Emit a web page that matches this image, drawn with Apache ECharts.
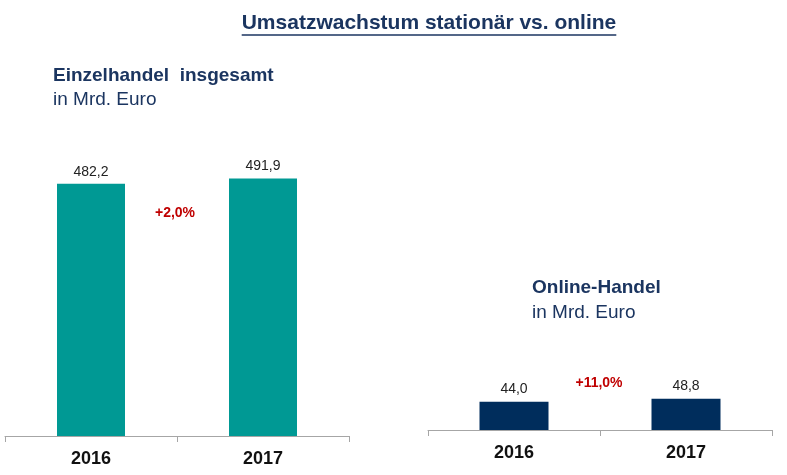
<!DOCTYPE html>
<html>
  <head>
    <meta charset="UTF-8">
    <title>Umsatzwachstum</title>
    <script src="https://cdn.jsdelivr.net/npm/echarts@6/dist/echarts.min.js"></script>
    <style>
      html, body { margin: 0; padding: 0; background: #fff; }
    </style>
  </head>
  <body>
    <div id="myChart" style="width: 787px;height:475px;"></div>
    <script type="text/javascript">
      // Daten
      var jahre = ['2016', '2017'];
      var einzelhandel = [482.2, 491.9];   // Mrd. Euro
      var online = [44.0, 48.8];          // Mrd. Euro
      var wachstum = ['+2,0%', '+11,0%'];

      var font = 'Liberation Sans, Arial, sans-serif';
      var navy = '#1b3560';
      var titel = 'Umsatzwachstum stationär vs. online';

      function komma(v) {
        return v.toFixed(1).replace('.', ',');
      }

      // Breite des Titels für die Unterstreichung
      var ctx = document.createElement('canvas').getContext('2d');
      ctx.font = 'bold 21px ' + font;
      var titelBreite = ctx.measureText(titel).width;
      var titelX = 429;

      var myChart = echarts.init(document.getElementById('myChart'));

      function xAchse(idx) {
        return {
          type: 'category',
          gridIndex: idx,
          data: jahre,
          axisLine: { lineStyle: { color: '#a6a6a6', width: 1 } },
          axisTick: { show: true, length: 6, lineStyle: { color: '#a6a6a6' } },
          axisLabel: {
            color: '#111', fontSize: 18, fontWeight: 'bold', fontFamily: font, margin: 14
          }
        };
      }

      function yAchse(idx, max) {
        return {
          type: 'value',
          gridIndex: idx,
          min: 0,
          max: max,
          show: false,
          splitLine: { show: false }
        };
      }

      var option = {
        animation: false,
        backgroundColor: '#fff',
        grid: [
          { left: 5, width: 344, top: 122, bottom: 39 },
          { left: 428, width: 344, top: 366, bottom: 45 }
        ],
        xAxis: [xAchse(0), xAchse(1)],
        yAxis: [yAchse(0, 600), yAchse(1, 100)],
        series: [
          {
            type: 'bar',
            xAxisIndex: 0,
            yAxisIndex: 0,
            data: einzelhandel,
            barWidth: 68,
            itemStyle: { color: '#009994' },
            label: {
              show: true, position: 'top', distance: 5,
              color: '#222', fontSize: 14, fontFamily: font,
              formatter: function (p) { return komma(p.value); }
            }
          },
          {
            type: 'bar',
            xAxisIndex: 1,
            yAxisIndex: 1,
            data: online,
            barWidth: 69,
            itemStyle: { color: '#002d5c' },
            label: {
              show: true, position: 'top', distance: 6,
              color: '#222', fontSize: 14, fontFamily: font,
              formatter: function (p) { return komma(p.value); }
            }
          }
        ],
        graphic: [
          {
            type: 'text', left: titelX - titelBreite / 2, top: 13,
            style: { text: titel, fill: navy, font: 'bold 21px ' + font }
          },
          {
            type: 'line',
            shape: { x1: titelX - titelBreite / 2, y1: 35, x2: titelX + titelBreite / 2, y2: 35 },
            style: { stroke: navy, lineWidth: 1.5 }
          },
          {
            type: 'text', left: 53, top: 66,
            style: { text: 'Einzelhandel  insgesamt', fill: navy, font: 'bold 19px ' + font }
          },
          {
            type: 'text', left: 53, top: 90,
            style: { text: 'in Mrd. Euro', fill: navy, font: '19px ' + font }
          },
          {
            type: 'text', left: 532, top: 278,
            style: { text: 'Online-Handel', fill: navy, font: 'bold 19px ' + font }
          },
          {
            type: 'text', left: 532, top: 303,
            style: { text: 'in Mrd. Euro', fill: navy, font: '19px ' + font }
          },
          {
            type: 'text', x: 175, y: 213,
            style: {
              text: wachstum[0], fill: '#c00000', font: 'bold 14px ' + font,
              align: 'center', verticalAlign: 'middle'
            }
          },
          {
            type: 'text', x: 599, y: 383,
            style: {
              text: wachstum[1], fill: '#c00000', font: 'bold 14px ' + font,
              align: 'center', verticalAlign: 'middle'
            }
          }
        ]
      };

      myChart.setOption(option);
    </script>
  </body>
</html>
